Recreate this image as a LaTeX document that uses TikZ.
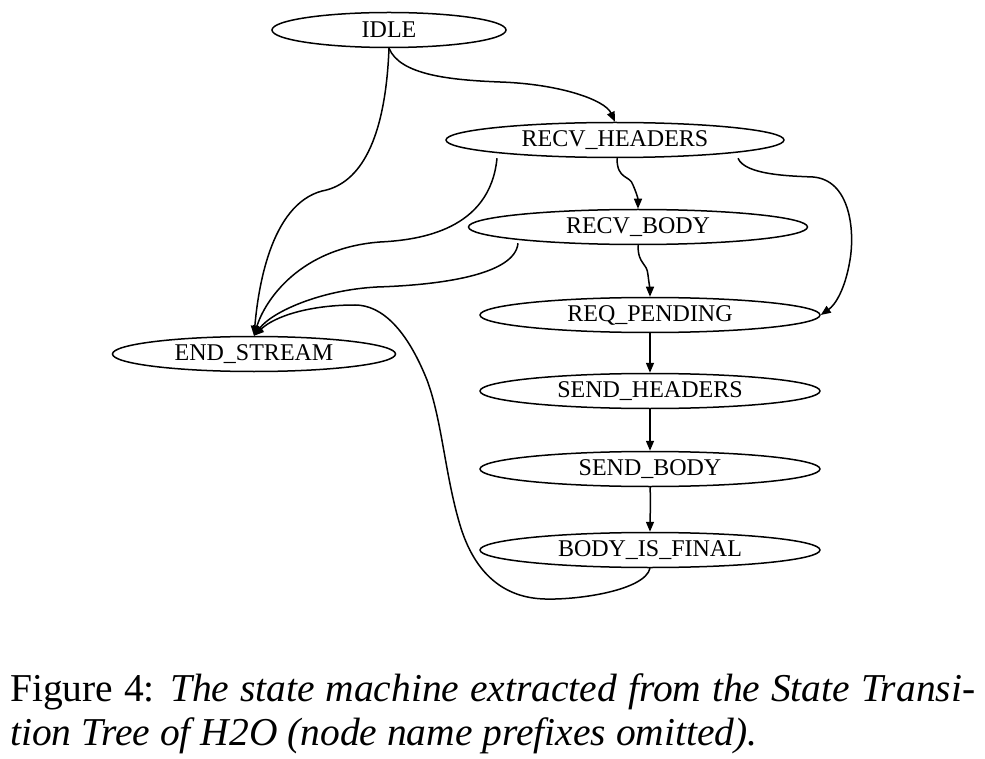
\documentclass[tikz,border=0pt]{standalone}
\usepackage{fontspec}
\setmainfont{Liberation Serif}
\usetikzlibrary{shapes.geometric,arrows.meta,calc}
\begin{document}
\begin{tikzpicture}[x=1pt,y=-1pt,
  st/.style={draw,ellipse,line width=1.5pt,inner sep=0pt,minimum height=35pt,font=\fontsize{24}{26}\selectfont},
  tr/.style={draw,line width=1.5pt,-{Triangle[length=10pt,width=8pt]}},
  captxt/.style={anchor=base west,inner sep=0pt,font=\fontsize{39.5}{44}\selectfont}]
\useasboundingbox (0,0) rectangle (985,759);
\node[st,minimum width=234pt] (idle) at (389,30) {IDLE};
\node[st,minimum width=338pt] (rh) at (615,140) {RECV\_HEADERS};
\node[st,minimum width=339pt] (rb) at (638,227) {RECV\_BODY};
\node[st,minimum width=340pt] (rp) at (650,315) {REQ\_PENDING};
\node[st,minimum width=283pt] (es) at (254,354) {END\_STREAM};
\node[st,minimum width=340pt] (sh) at (650,391) {SEND\_HEADERS};
\node[st,minimum width=340pt] (sb) at (650,469) {SEND\_BODY};
\node[st,minimum width=340pt] (bf) at (650,550) {BODY\_IS\_FINAL};
% IDLE -> RECV_HEADERS
\draw[tr] (idle.south) .. controls (400,75) and (450,80) .. (500,82)
  .. controls (560,84) and (605,100) .. (rh.north);
% IDLE -> END_STREAM
\draw[tr] (idle.south) .. controls (385,150) and (355,185) .. (322,191)
  .. controls (270,205) and (258,290) .. (es.north);
% RECV_HEADERS -> END_STREAM
\draw[tr] ($(rh.south)+(-118,0)$) .. controls (490,230) and (420,240) .. (380,242)
  .. controls (300,248) and (265,300) .. (es.north);
% RECV_BODY -> END_STREAM
\draw[tr] ($(rb.south)+(-120,-2)$) .. controls (515,275) and (440,285) .. (377,287)
  .. controls (320,290) and (272,312) .. (es.north);
% BODY_IS_FINAL -> END_STREAM
\draw[tr] (bf.south) .. controls (645,590) and (580,600) .. (545,599)
  .. controls (505,598) and (475,575) .. (460,525)
  .. controls (445,475) and (442,420) .. (427,380)
  .. controls (407,330) and (382,305) .. (355,305)
  .. controls (310,305) and (275,316) .. (es.north);
% RECV_HEADERS -> RECV_BODY
\draw[tr] ($(rh.south)+(2,0)$) .. controls (617,180) and (630,175) .. (633,185)
  .. controls (636,192) and (638,198) .. (rb.north);
% RECV_BODY -> REQ_PENDING
\draw[tr] (rb.south) .. controls (638,265) and (647,262) .. (648,275)
  .. controls (649,283) and (650,290) .. (rp.north);
% RECV_HEADERS -> REQ_PENDING
\draw[tr] ($(rh.south)+(123,0)$) .. controls (745,175) and (790,176) .. (813,177)
  .. controls (850,180) and (855,230) .. (850,260)
  .. controls (845,290) and (835,305) .. (rp.east);
% chain
\draw[tr] (rp.south) -- (sh.north);
\draw[tr] (sh.south) -- (sb.north);
\draw[tr] (sb.south) .. controls (651,505) and (650,515) .. (bf.north);
% caption
\node[captxt] (cap1) at (10,701) {\makebox[965pt][s]{Figure 4: \textit{The state machine extracted from the State Transi-}}};
\node[captxt] (cap2) at (10,745) {\textit{tion Tree of H2O (node name prefixes omitted).}};
\end{tikzpicture}
\end{document}
